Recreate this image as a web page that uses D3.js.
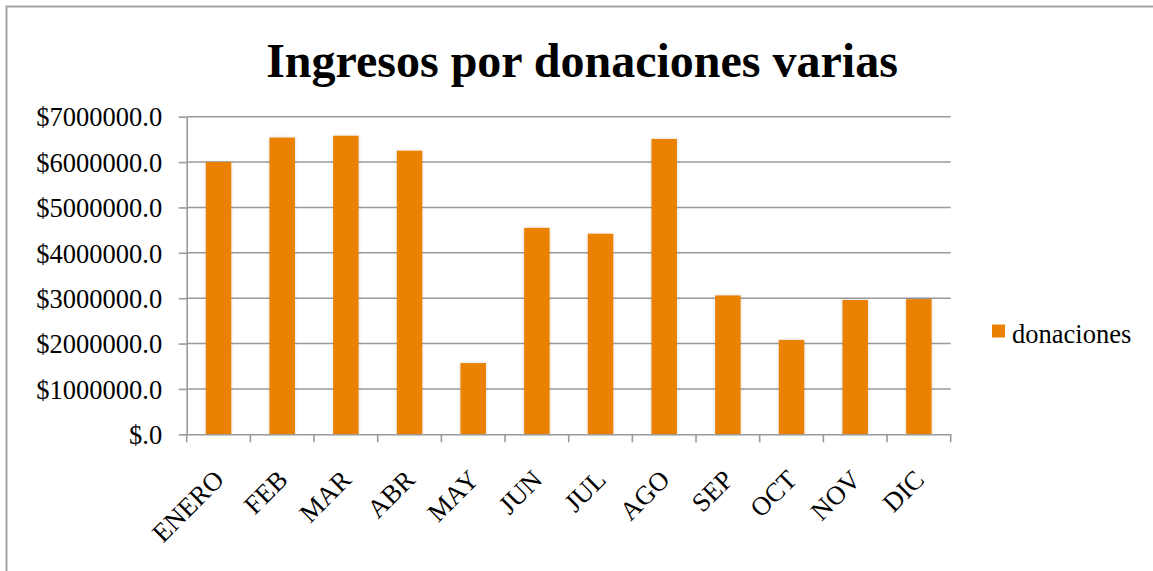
<!DOCTYPE html>
<html>
<head>
<meta charset="utf-8">
<script src="https://cdn.jsdelivr.net/npm/d3@7"></script>
<style>
  html, body { margin: 0; padding: 0; background: #fff; }
  svg { display: block; }
  text { font-family: "Liberation Serif", "Times New Roman", serif; fill: #000; }
</style>
</head>
<body>
<svg id="chart" width="1153" height="571"></svg>
<script>
const categories = ["ENERO", "FEB", "MAR", "ABR", "MAY", "JUN", "JUL", "AGO", "SEP", "OCT", "NOV", "DIC"];
const donaciones = [6000000, 6540000, 6580000, 6250000, 1570000, 4550000, 4420000, 6510000, 3060000, 2080000, 2960000, 2980000];
const yTicks = [0, 1000000, 2000000, 3000000, 4000000, 5000000, 6000000, 7000000];
const seriesName = "donaciones";
const title = "Ingresos por donaciones varias";

const svg = d3.select("#chart");
const W = 1153, H = 571;
const plotLeft = 186.7, plotRight = 950.7, plotTop = 116.7, plotBottom = 434.3;
const gray = "#9a9a9a";
const barColor = "#EB8104";
const serif = "'Liberation Serif', 'Times New Roman', serif";

// outer border
svg.append("rect")
  .attr("x", 6.5).attr("y", 6.5)
  .attr("width", W + 10).attr("height", H + 10)
  .attr("fill", "none").attr("stroke", "#a6a6a6").attr("stroke-width", 2);

// title
svg.append("text")
  .attr("x", 582).attr("y", 77)
  .attr("text-anchor", "middle")
  .style("font-weight", "bold")
  .style("font-family", serif)
  .style("font-size", "48px")
  .text(title);

const x = d3.scaleBand().domain(categories).range([plotLeft, plotRight]).paddingInner(0.6).paddingOuter(0.3);
const xb = d3.scaleBand().domain(categories).range([plotLeft, plotRight]);
const y = d3.scaleLinear().domain([0, 7000000]).range([plotBottom, plotTop]);

// gridlines
svg.append("g").selectAll("line").data(yTicks.filter(d => d > 0)).join("line")
  .attr("x1", plotLeft).attr("x2", plotRight)
  .attr("y1", d => y(d)).attr("y2", d => y(d))
  .attr("stroke", gray).attr("stroke-width", 1.6);

// shadow filter
const defs = svg.append("defs");
const f = defs.append("filter").attr("id", "sh").attr("x", "-20%").attr("y", "-5%").attr("width", "140%").attr("height", "110%");
f.append("feDropShadow").attr("dx", 0).attr("dy", 0).attr("stdDeviation", 1.5).attr("flood-color", "#000").attr("flood-opacity", 0.18);

// bars
svg.append("g").selectAll("rect").data(donaciones).join("rect")
  .attr("x", (d, i) => x(categories[i]))
  .attr("width", x.bandwidth())
  .attr("y", d => y(d))
  .attr("height", d => y(0) - y(d))
  .attr("fill", barColor)
  .attr("filter", "url(#sh)");

// y axis
const yAxis = d3.axisLeft(y).tickValues(yTicks).tickSize(8).tickSizeOuter(0)
  .tickFormat(d => d === 0 ? "$.0" : "$" + d + ".0");
const gy = svg.append("g").attr("transform", `translate(${plotLeft},0)`).call(yAxis);
gy.attr("font-family", null).attr("font-size", null);
gy.select(".domain").attr("stroke", gray).attr("stroke-width", 1.6);
gy.selectAll(".tick line").attr("stroke", gray).attr("stroke-width", 1.6);
gy.selectAll(".tick text")
  .attr("x", -24.5).attr("dy", "0.35em")
  .style("font-size", "26.5px").style("font-family", serif).attr("fill", "#000");

// x axis
const xAxis = d3.axisBottom(xb).tickSize(0).tickSizeOuter(0);
const gx = svg.append("g").attr("transform", `translate(0,${plotBottom})`).call(xAxis);
gx.attr("font-family", null).attr("font-size", null);
gx.select(".domain").attr("stroke", gray).attr("stroke-width", 1.6);
gx.selectAll(".tick line").remove();
// tick marks at band boundaries
const bounds = categories.map(c => xb(c)).concat([plotRight]);
svg.append("g").selectAll("line").data(bounds).join("line")
  .attr("x1", d => d).attr("x2", d => d)
  .attr("y1", plotBottom).attr("y2", plotBottom + 8)
  .attr("stroke", gray).attr("stroke-width", 1.6);
gx.selectAll(".tick text")
  .attr("y", 0).attr("dy", 0)
  .attr("text-anchor", "end")
  .attr("transform", "translate(7,47) rotate(-45)")
  .style("font-size", "26.5px").style("font-family", serif).attr("fill", "#000");

// legend
const lg = svg.append("g");
lg.append("rect").attr("x", 992).attr("y", 324.5).attr("width", 13).attr("height", 13).attr("fill", barColor);
lg.append("text").attr("x", 1012).attr("y", 343).style("font-size", "26.5px").style("font-family", serif).text(seriesName);
</script>
</body>
</html>
